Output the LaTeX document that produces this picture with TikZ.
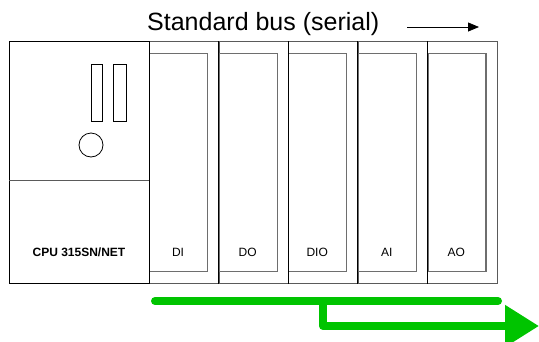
\documentclass[tikz,border=0pt]{standalone}
\usepackage{fontspec}
\setmainfont{Liberation Sans}
\usetikzlibrary{arrows.meta}
\definecolor{busgreen}{RGB}{0,196,0}
\definecolor{frame}{RGB}{90,90,90}
\definecolor{slotgray}{RGB}{110,110,110}
\begin{document}
\begin{tikzpicture}[x=1pt,y=-1pt,
  module/.style={draw=frame, line width=0.8pt, inner sep=0pt, anchor=north west, minimum width=69.6pt, minimum height=242pt},
  slot/.style={draw=slotgray, line width=1.2pt, inner sep=0pt, anchor=north west, minimum width=58pt, minimum height=218pt},
  lbl/.style={anchor=base, inner sep=0pt, font=\fontsize{12}{14}\selectfont},
  led/.style={draw=black, line width=0.8pt, inner sep=0pt, anchor=north west, minimum height=57pt},
  bus/.style={draw=busgreen, line width=8pt}
]
\useasboundingbox (0,0) rectangle (539,341);
% CPU
\node[draw=black, line width=1pt, inner sep=0pt, anchor=north west, minimum width=140pt, minimum height=242pt] (cpu) at (9,41) {};
\coordinate (sepL) at (9,180);
\coordinate (sepR) at (149,180);
\draw[frame, line width=0.8pt] (sepL) -- (sepR);
\node[led, minimum width=11pt] (led1) at (91,64) {};
\node[led, minimum width=13pt] (led2) at (113,64) {};
\node[draw=black, line width=0.8pt, circle, minimum size=24pt, inner sep=0pt] (sw) at (91,145) {};
\node[anchor=base, inner sep=0pt, font=\bfseries\fontsize{12}{14}\selectfont] (cpul) at (79,256) {CPU 315SN/NET};
% modules
\foreach \i/\t in {1/DI,2/DO,3/DIO,4/AI,5/AO} {
  \pgfmathsetmacro\xl{149+(\i-1)*69.6}
  \node[module] (m\i) at (\xl,41) {};
  \node[slot] (s\i) at (\xl,53) {};
  \draw[black, line width=1pt] (m\i.north west) -- (m\i.south west);
  \node[lbl] (l\i) at (\xl+29,256) {\t};
}
% title
\node[anchor=base west, inner sep=0pt, font=\fontsize{25}{30}\selectfont] (title) at (147,30) {Standard bus (serial)};
\coordinate (a1) at (407,27);
\coordinate (a2) at (479,27);
\draw[line width=0.8pt, -{Triangle[length=11pt,width=9pt]}] (a1) -- (a2);
% green bus
\coordinate (g1) at (155,301);
\coordinate (g2) at (498,301);
\draw[bus, line cap=round] (g1) -- (g2);
\coordinate (g3) at (323,301);
\coordinate (g4) at (323,326);
\coordinate (g5) at (539,326);
\draw[bus, line join=round, -{Triangle[length=34pt,width=40pt]}] (g3) -- (g4) -- (g5);
\end{tikzpicture}
\end{document}
